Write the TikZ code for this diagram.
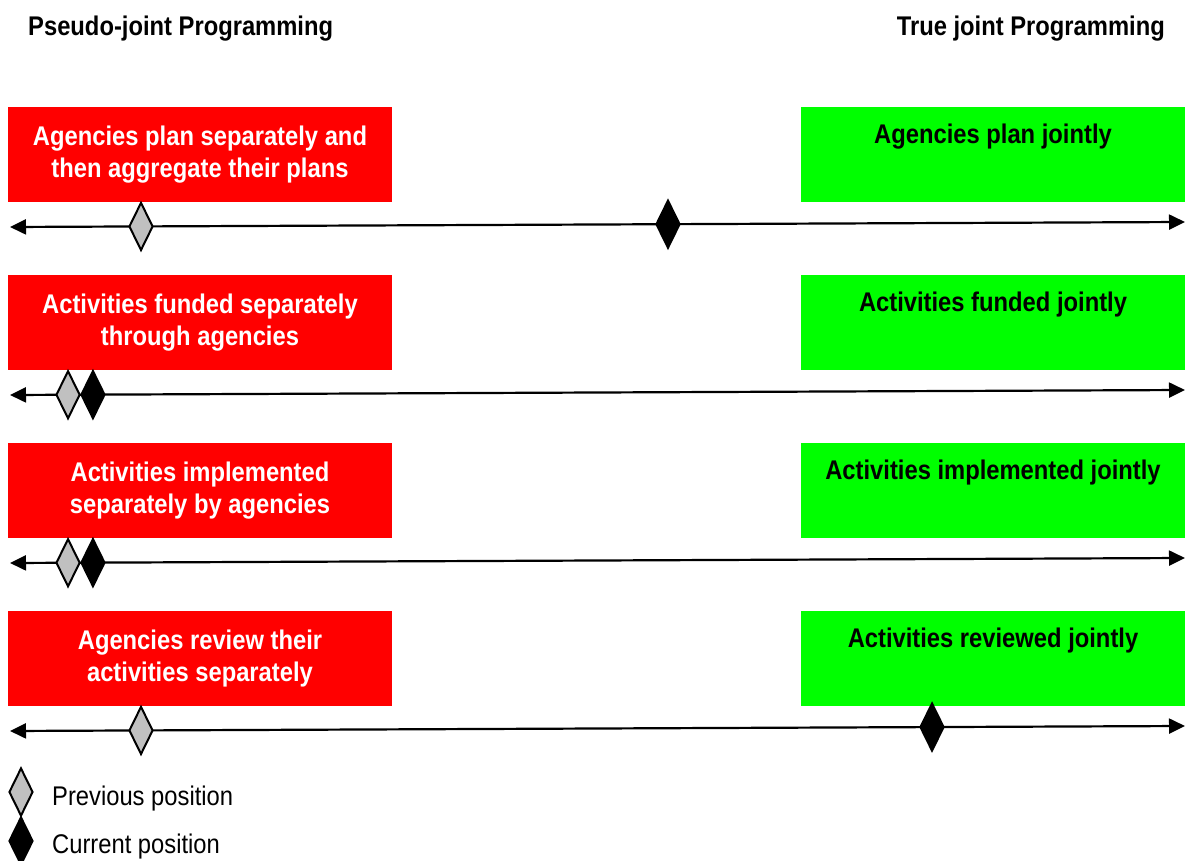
\documentclass[tikz,border=0pt]{standalone}
\usepackage{fontspec}
\setmainfont[FakeStretch=0.88]{Liberation Sans}
\usetikzlibrary{arrows.meta,shapes.geometric}

\definecolor{sepred}{RGB}{255,0,0}
\definecolor{jointgreen}{RGB}{0,255,0}
\definecolor{prevgray}{RGB}{192,192,192}

\tikzset{
    boxfont/.style={font=\fontsize{27}{32}\selectfont\bfseries},
    sepbox/.style={boxfont, fill=sepred, text=white, minimum width=384pt, minimum height=95pt, text width=376pt, align=flush center, inner sep=0pt},
    jointbox/.style={boxfont, fill=jointgreen, text=black, minimum width=384pt, minimum height=95pt, text width=376pt, align=flush center, inner sep=0pt},
    scale line/.style={line width=2.2pt, {Triangle[length=16pt,width=15pt]}-{Triangle[length=16pt,width=15pt]}},
    prevmark/.style={diamond, draw, line width=2pt, fill=prevgray, inner sep=0pt, minimum width=24pt, minimum height=48pt},
    currmark/.style={diamond, draw, line width=2pt, fill=black, inner sep=0pt, minimum width=24pt, minimum height=48pt}
}

\begin{document}
\begin{tikzpicture}[x=1pt, y=-1pt]

    \useasboundingbox (0,0) rectangle (1187,861);

    %% Headings
    \node[boxfont, anchor=west, inner sep=0pt] (pseudo) at (28,29) {Pseudo-joint Programming};
    \node[boxfont, anchor=east, inner sep=0pt] (truejoint) at (1165,29) {True joint Programming};

    %% Planning
    \node[sepbox] (sepplan) at (200,154.5) {Agencies plan separately and\\then aggregate their plans};
    \node[jointbox] (jointplan) at (993,154.5) {Agencies plan jointly\\\strut};
    \coordinate (lplan) at (10,227);
    \coordinate (rplan) at (1185,222);
    \draw[scale line] (lplan) -- (rplan)
        node[prevmark, pos=0.1115] (prevplan) {}
        node[currmark, pos=0.56] (currplan) {};

    %% Funding
    \node[sepbox] (sepfund) at (200,322.5) {Activities funded separately\\through agencies};
    \node[jointbox] (jointfund) at (993,322.5) {Activities funded jointly\\\strut};
    \coordinate (lfund) at (10,395);
    \coordinate (rfund) at (1185,390);
    \draw[scale line] (lfund) -- (rfund)
        node[prevmark, pos=0.0494] (prevfund) {}
        node[currmark, pos=0.0706] (currfund) {};

    %% Implementation
    \node[sepbox] (sepimpl) at (200,490.5) {Activities implemented\\separately by agencies};
    \node[jointbox] (jointimpl) at (993,490.5) {Activities implemented jointly\\\strut};
    \coordinate (limpl) at (10,563);
    \coordinate (rimpl) at (1185,558);
    \draw[scale line] (limpl) -- (rimpl)
        node[prevmark, pos=0.0494] (previmpl) {}
        node[currmark, pos=0.0706] (currimpl) {};

    %% Review
    \node[sepbox] (seprev) at (200,658.5) {Agencies review their\\activities separately};
    \node[jointbox] (jointrev) at (993,658.5) {Activities reviewed jointly\\\strut};
    \coordinate (lrev) at (10,731);
    \coordinate (rrev) at (1185,726);
    \draw[scale line] (lrev) -- (rrev)
        node[prevmark, pos=0.1115] (prevrev) {}
        node[currmark, pos=0.7847] (currrev) {};

    %% Legend
    \node[prevmark] (legprev) at (21,792) {};
    \node[currmark] (legcurr) at (21,841) {};
    \node[anchor=west, inner sep=0pt, font=\fontsize{27}{32}\selectfont] (legprevtext) at (52,799) {Previous position};
    \node[anchor=west, inner sep=0pt, font=\fontsize{27}{32}\selectfont] (legcurrtext) at (52,847) {Current position};

\end{tikzpicture}
\end{document}
